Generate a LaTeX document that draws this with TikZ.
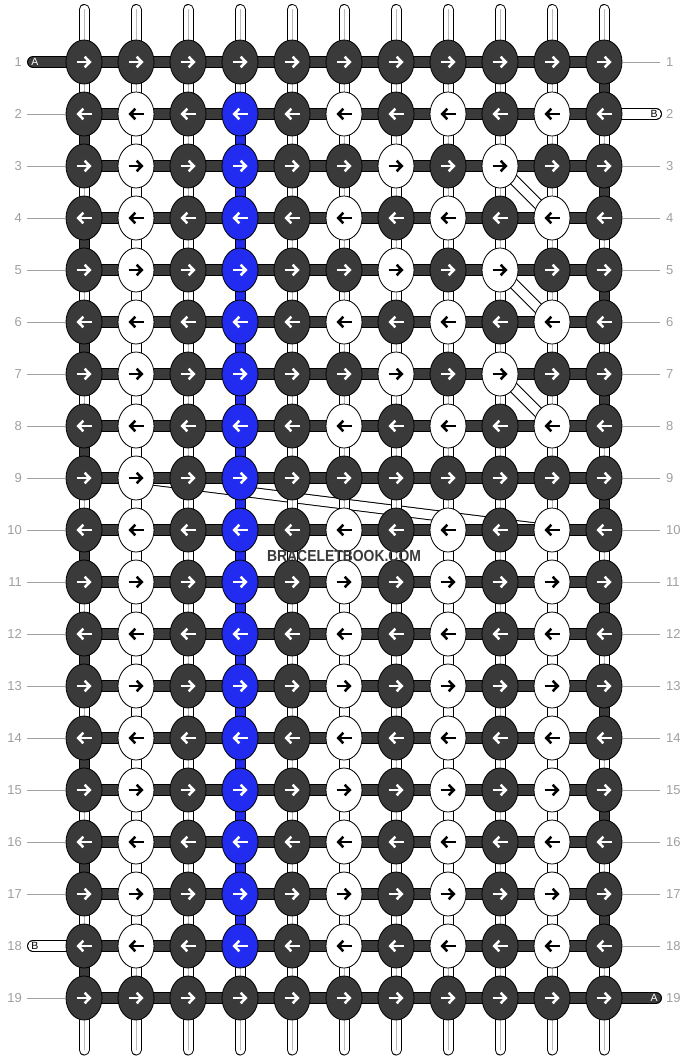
\documentclass[tikz,border=0pt]{standalone}
\usepackage{fontspec}
\setmainfont{Liberation Sans}
\usetikzlibrary{shapes.geometric}
\usetikzlibrary{arrows.meta}
\usetikzlibrary{backgrounds}
\definecolor{knotdark}{RGB}{58,58,58}
\definecolor{knotblue}{RGB}{34,44,240}
\definecolor{rowgray}{RGB}{160,160,160}
\definecolor{wiregray}{RGB}{185,185,185}

\tikzset{
	knot/.style={ellipse, draw=black, line width=0.8pt, minimum width=36pt, minimum height=44pt, inner sep=0pt},
	knotD/.style={knot, fill=knotdark},
	knotW/.style={knot, fill=white},
	knotB/.style={knot, fill=knotblue},
	arrowD/.style={draw=white},
	arrowW/.style={draw=black},
	arrowB/.style={draw=white},
	knotarrow/.style={line width=2.6pt, -{Straight Barb[length=5pt, width=10.5pt]}},
	wire/.style={draw=black, line width=11pt, postaction={draw=white, line width=9pt}, postaction={draw=wiregray, line width=0.6pt}},
	block/.style={draw=black, line width=11pt, postaction={draw=#1, line width=9pt}},
	hbar/.style={draw=black, line width=12pt, postaction={draw=#1, line width=10pt}},
	hbar/.default=knotdark,
	rowline/.style={draw=rowgray, line width=0.8pt},
	rownum/.style={text=rowgray, font=\fontsize{13}{13}\selectfont, inner sep=0pt},
	strandlab/.style={font=\fontsize{10.5}{10.5}\selectfont, inner sep=0pt}
}

\begin{document}
\begin{tikzpicture}[x=1pt, y=-1pt]
	\useasboundingbox (0,0) rectangle (688,1060);
	% knots, row by row
	\foreach \r/\row in {
		1/{D,D,D,D,D,D,D,D,D,D,D},
		2/{D,W,D,B,D,W,D,W,D,W,D},
		3/{D,W,D,B,D,D,W,D,W,D,D},
		4/{D,W,D,B,D,W,D,W,D,W,D},
		5/{D,W,D,B,D,D,W,D,W,D,D},
		6/{D,W,D,B,D,W,D,W,D,W,D},
		7/{D,W,D,B,D,D,W,D,W,D,D},
		8/{D,W,D,B,D,W,D,W,D,W,D},
		9/{D,W,D,B,D,D,D,D,D,D,D},
		10/{D,W,D,B,D,W,D,W,D,W,D},
		11/{D,W,D,B,D,W,D,W,D,W,D},
		12/{D,W,D,B,D,W,D,W,D,W,D},
		13/{D,W,D,B,D,W,D,W,D,W,D},
		14/{D,W,D,B,D,W,D,W,D,W,D},
		15/{D,W,D,B,D,W,D,W,D,W,D},
		16/{D,W,D,B,D,W,D,W,D,W,D},
		17/{D,W,D,B,D,W,D,W,D,W,D},
		18/{D,W,D,B,D,W,D,W,D,W,D},
		19/{D,D,D,D,D,D,D,D,D,D,D}}{
		\ifodd\r\relax \def\sa{-7.5pt}\def\sb{7.5pt}\else \def\sa{7.5pt}\def\sb{-7.5pt}\fi
		\foreach \k [count=\c] in \row {
			\node[knot\k] (k-\r-\c) at ({84+52*(\c-1)}, {62+52*(\r-1)}) {};
			\draw[knotarrow, arrow\k] ([xshift=\sa]k-\r-\c.center) -- ([xshift=\sb]k-\r-\c.center);
		}
	}

	\begin{pgfonlayer}{background}
		\fill[white] (0,0) rectangle (688,1060);
		% loose ends at top and bottom
		\foreach \c in {1,...,11}{
			\coordinate (top-\c) at ({84+52*(\c-1)}, 9.5);
			\coordinate (bot-\c) at ({84+52*(\c-1)}, 1050);
			\draw[wire, line cap=round] (top-\c) -- (k-1-\c.center);
			\draw[wire, line cap=round] (k-19-\c.center) -- (bot-\c);
		}
		% strands that cross over
		\draw[block=white] (k-3-9.center) -- (k-4-10.center);
		\draw[block=white] (k-5-9.center) -- (k-6-10.center);
		\draw[block=white] (k-7-9.center) -- (k-8-10.center);
		\draw[block=white] (k-9-2.center) -- (k-10-10.center);
		% vertical strands
		\foreach \r in {1,...,18}{
			\pgfmathtruncatemacro\s{\r+1}
			\foreach \c in {1,...,11}
				\draw[wire] (k-\r-\c.center) -- (k-\s-\c.center);
		}
		\foreach \c/\a/\b/\colr in {2/2/17/white, 4/2/17/knotblue, 6/10/17/white, 8/10/17/white, 10/10/17/white}{
			\foreach \r in {\a,...,\b}{
				\pgfmathtruncatemacro\s{\r+1}
				\draw[block=\colr] (k-\r-\c.center) -- (k-\s-\c.center);
			}
		}
		% turns at the edges
		\foreach \r in {2,4,...,18}{
			\pgfmathtruncatemacro\s{\r+1}
			\draw[block=knotdark] (k-\r-1.center) -- (k-\s-1.center);
		}
		\foreach \r in {1,3,...,17}{
			\pgfmathtruncatemacro\s{\r+1}
			\draw[block=knotdark] (k-\r-11.center) -- (k-\s-11.center);
		}
		% horizontal strands
		\foreach \r in {1,...,19}{
			\foreach \c in {1,...,10}{
				\pgfmathtruncatemacro\d{\c+1}
				\draw[hbar] (k-\r-\c.center) -- (k-\r-\d.center);
			}
		}
		\coordinate (endA-in) at (33,62);
		\coordinate (endB-in) at (656,114);
		\coordinate (endB-out) at (33,946);
		\coordinate (endA-out) at (656,998);
		\draw[hbar, line cap=round] (endA-in) -- (k-1-1.center);
		\draw[hbar=white, line cap=round] (k-2-11.center) -- (endB-in);
		\draw[hbar=white, line cap=round] (endB-out) -- (k-18-1.center);
		\draw[hbar, line cap=round] (k-19-11.center) -- (endA-out);
	\end{pgfonlayer}

	\node[strandlab, text=white] (labA-in) at (35,62) {A};
	\node[strandlab] (labB-in) at (654,114) {B};
	\node[strandlab] (labB-out) at (35,946) {B};
	\node[strandlab, text=white] (labA-out) at (654,998) {A};

	% row numbers
	\foreach \r in {1,...,19}{
		\node[rownum, anchor=east] (numL-\r) at (22, {62+52*(\r-1)}) {\r};
		\node[rownum, anchor=west] (numR-\r) at (666, {62+52*(\r-1)}) {\r};
	}
	\foreach \r in {2,3,4,5,6,7,8,9,10,11,12,13,14,15,16,17,19}{
		\coordinate (lineL-\r) at (27, {62+52*(\r-1)});
		\draw[rowline] (lineL-\r) -- (k-\r-1);
	}
	\foreach \r in {1,3,4,5,6,7,8,9,10,11,12,13,14,15,16,17,18}{
		\coordinate (lineR-\r) at (660, {62+52*(\r-1)});
		\draw[rowline] (k-\r-11) -- (lineR-\r);
	}

	\node[font=\bfseries\fontsize{16}{16}\selectfont, text=knotdark] (brand) at (344,556) {\scalebox{0.87}[1]{BRACELETBOOK.COM}};
\end{tikzpicture}
\end{document}
